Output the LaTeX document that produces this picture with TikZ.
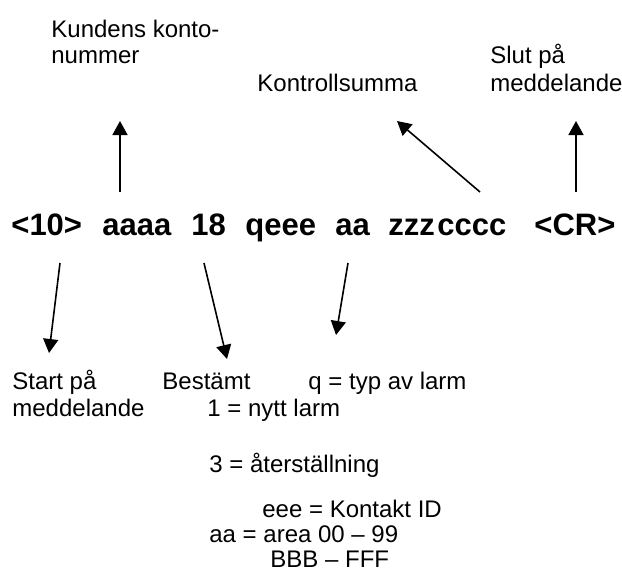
\documentclass[tikz,border=0pt]{standalone}
\usepackage{fontspec}
\setmainfont{Liberation Sans}
\usetikzlibrary{arrows.meta}
\tikzset{
	lbl/.style={anchor=base west, inner sep=0pt, font=\fontsize{12}{14}\selectfont},
	tok/.style={anchor=base west, inner sep=0pt, font=\fontsize{15.5}{18}\selectfont\bfseries},
	pil/.style={-{Triangle[width=7.5pt,length=7pt]}, line width=0.8pt},
}
\begin{document}
\begin{tikzpicture}[x=0.5pt, y=-0.5pt]
	\useasboundingbox (0,0) rectangle (622,570);
	
	% meddelandet
	\node[tok] (t10) at (11,235) {<10>};
	\node[tok] (taaaa) at (102,235) {aaaa};
	\node[tok] (t18) at (191,235) {18};
	\node[tok] (tqeee) at (245,235) {qeee};
	\node[tok] (taa) at (335,235) {aa};
	\node[tok] (tzzz) at (388,235) {zzz};
	\node[tok] (tcccc) at (437,235) {cccc};
	\node[tok] (tcr) at (534,235) {<CR>};
	
	% ovanfor
	\node[lbl] (kund1) at (51,37) {Kundens konto-};
	\node[lbl] (kund2) at (51,63) {nummer};
	\node[lbl] (kontr) at (257,91) {Kontrollsumma};
	\node[lbl] (slut1) at (490,63) {Slut på};
	\node[lbl] (slut2) at (490,91) {meddelande};
	
	% nedanfor
	\node[lbl] (start1) at (12,389) {Start på};
	\node[lbl] (start2) at (12,416) {meddelande};
	\node[lbl] (best) at (162,389) {Bestämt};
	\node[lbl] (typ) at (308,389) {q = typ av larm};
	\node[lbl] (nytt) at (207,416) {1 = nytt larm};
	\node[lbl] (ater) at (209,472) {3 = återställning};
	\node[lbl] (kontakt) at (262,517) {eee = Kontakt ID};
	\node[lbl] (area) at (209,542) {aa = area 00 – 99};
	\node[lbl] (bbb) at (270,567) {BBB – FFF};
	
	\coordinate (kto-a) at (120,192);
	\coordinate (kto-b) at (120,121);
	\coordinate (sum-a) at (480,192);
	\coordinate (sum-b) at (397,121);
	\coordinate (slut-a) at (576,192);
	\coordinate (slut-b) at (576,121);
	\coordinate (start-a) at (60,263);
	\coordinate (start-b) at (49,353);
	\coordinate (best-a) at (204,263);
	\coordinate (best-b) at (227,359);
	\coordinate (typ-a) at (348,263);
	\coordinate (typ-b) at (336,335);
	
	\draw[pil] (kto-a) -- (kto-b);
	\draw[pil] (sum-a) -- (sum-b);
	\draw[pil] (slut-a) -- (slut-b);
	\draw[pil] (start-a) -- (start-b);
	\draw[pil] (best-a) -- (best-b);
	\draw[pil] (typ-a) -- (typ-b);
	
\end{tikzpicture}
\end{document}
